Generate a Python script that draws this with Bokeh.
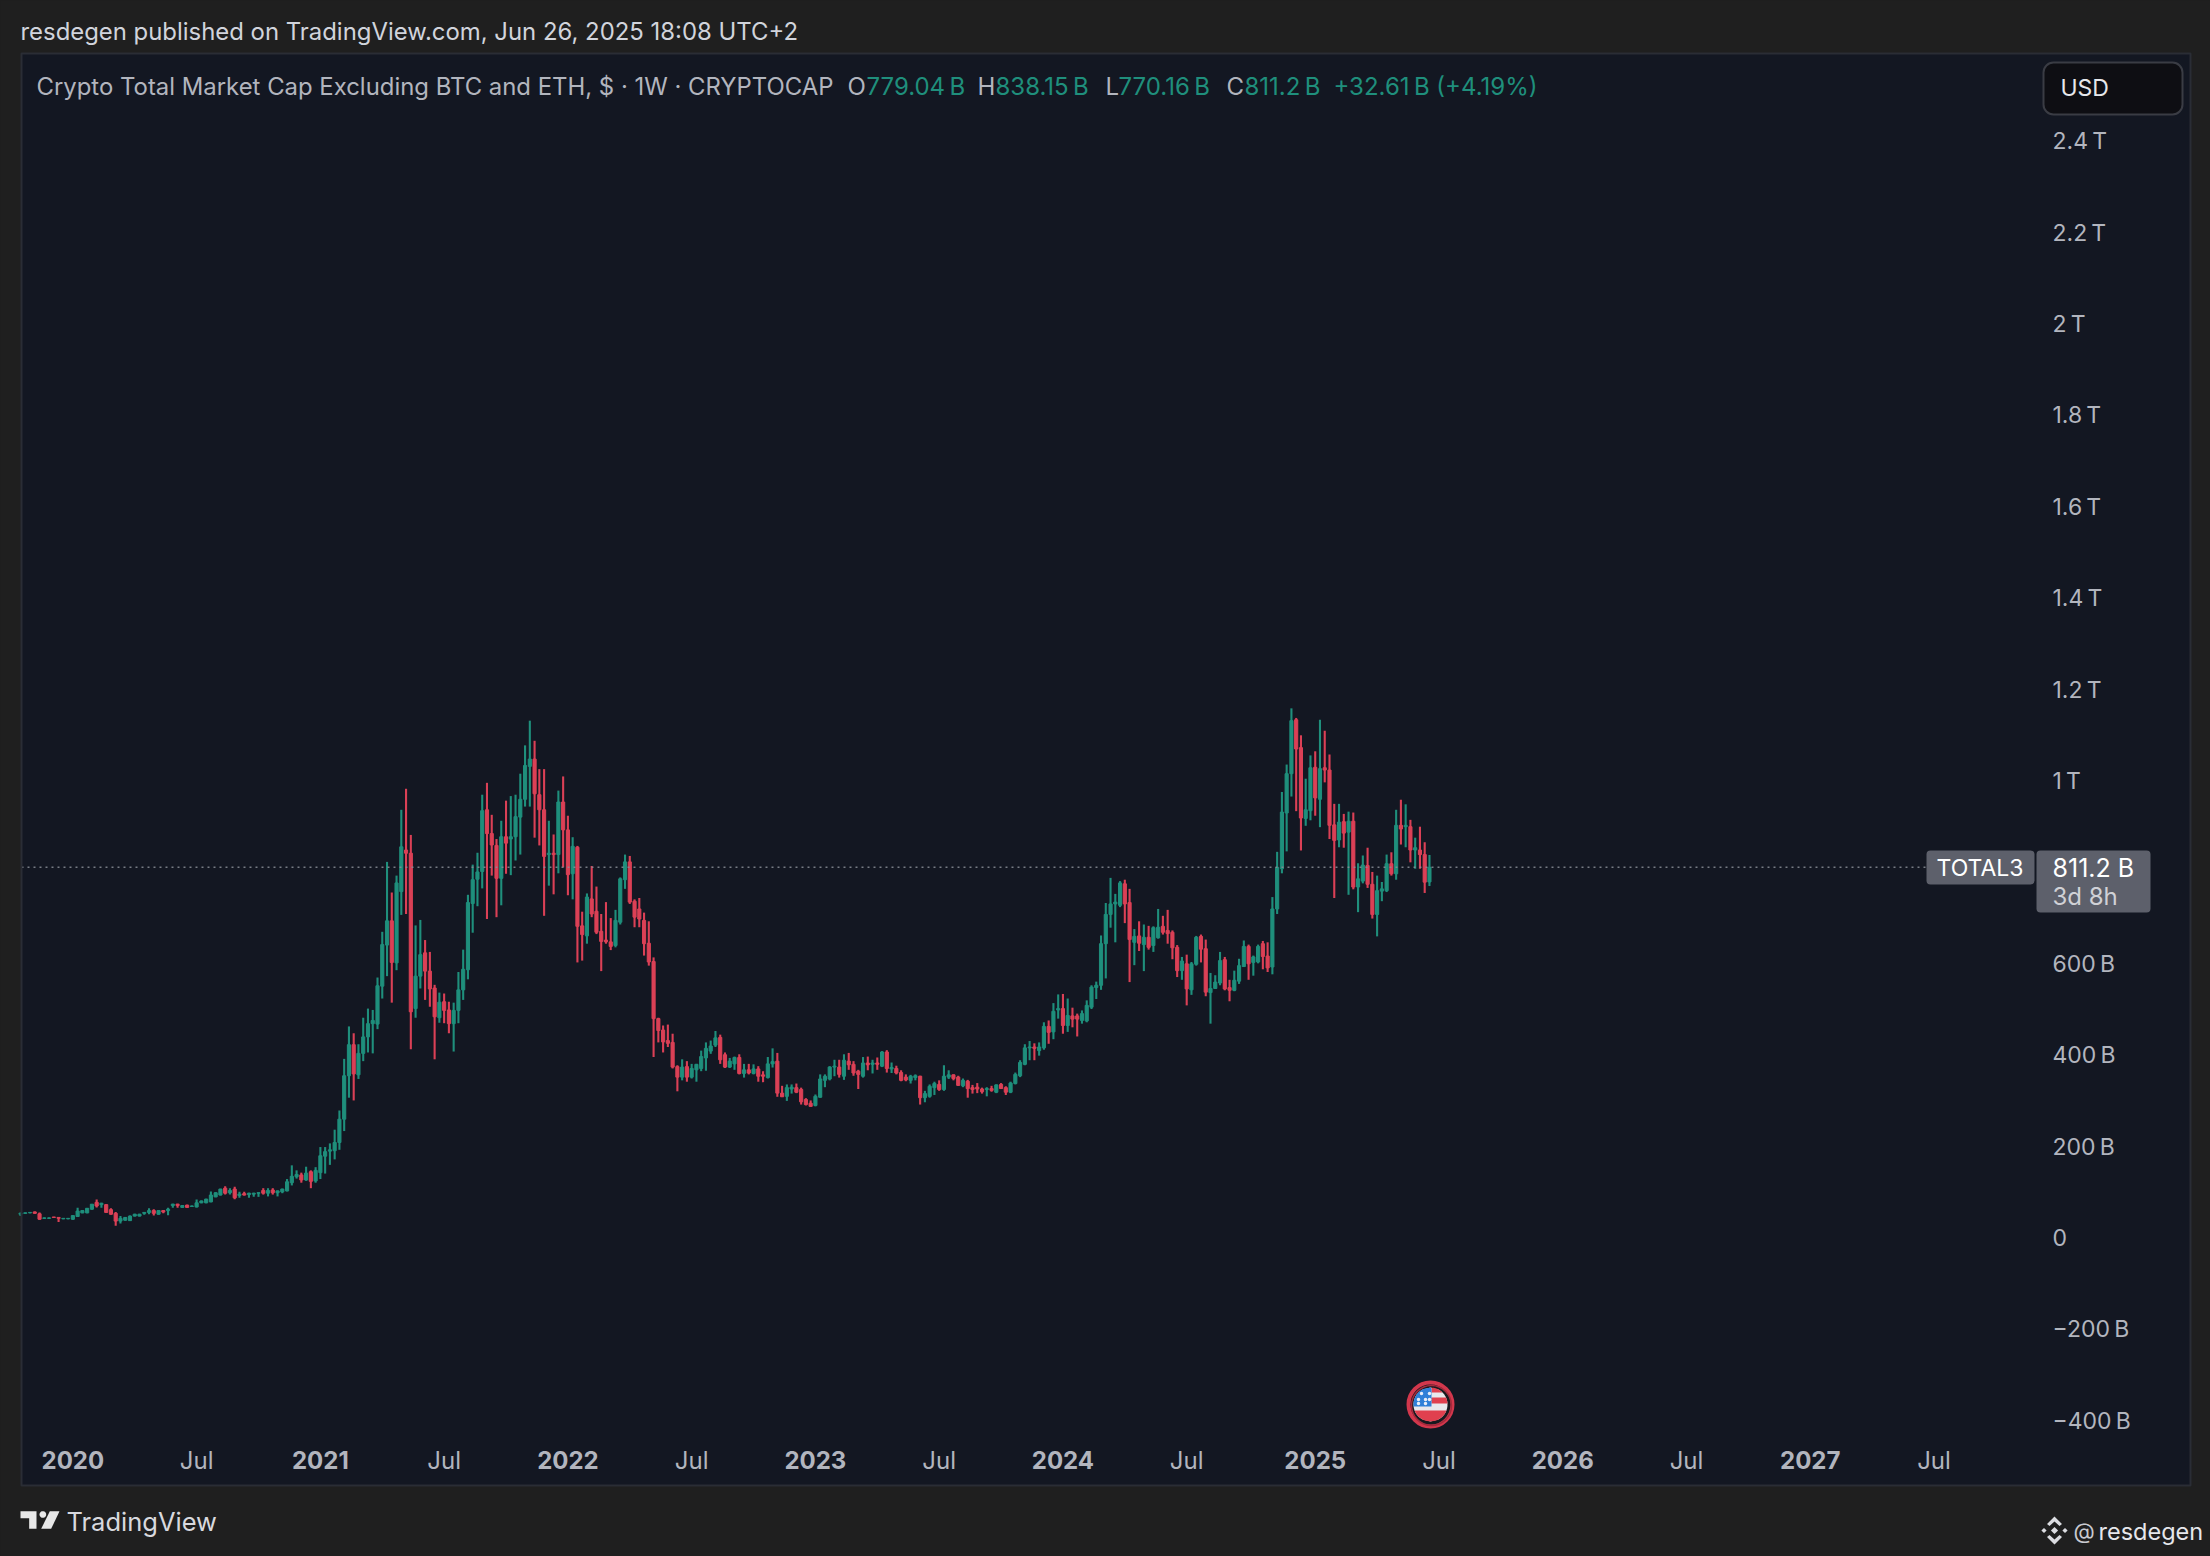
import numpy as np
from bokeh.plotting import figure, ColumnDataSource
from bokeh.models import (Range1d, LinearAxis, FixedTicker, Label, BoxAnnotation, PolyAnnotation)
from bokeh.embed import file_html
from bokeh.resources import INLINE

# ---------- data (billions USD, weekly candles) ----------
opens = [52,54,55,57,53,43,43,46,45,42, 42,41,47,55,55,63,78,73,73,62,
 54,37,39,38,48,48,54,56,60,52, 60,60,71,74,67,72,69,68,77,77,
 79,90,94,109,99,107,93,97,95,96, 98,104,98,105,99,101,103,121,134,138,
 127,145,125,143,179,190,191,209,260,355, 423,357,404,440,469,468,551,641,694,602,
 758,849,842,502,573,624,584,547,482,517, 499,469,498,543,587,732,785,802,937,885,
 859,787,878,873,878,921,960,1032,1048,970, 937,839,842,839,954,893,797,855,683,661,
 742,715,671,652,648,640,691,784,823,737, 720,695,645,605,480,455,432,428,375,352,
 375,352,368,371,394,409,422,439,401,374, 381,395,360,368,360,370,357,351,381,387,
 317,310,326,329,325,303,295,290,308,345, 348,374,374,354,387,380,365,354,383,380,
 383,376,407,370,371,362,352,345,351,354, 307,310,329,336,325,352,357,352,333,343,
 329,330,326,325,327,319,336,329,319,338, 355,380,416,418,410,416,463,451,499,502,
 465,486,486,476,475,505,548,553,644,708, 731,728,775,734,647,661,642,658,640,657,
 682,673,669,636,585,600,543,599,660,633, 537,546,558,609,548,542,562,594,638,603,
 604,644,617,593,720,808,930,1016,1134,1073, 918,935,1030,960,1029,1024,904,871,911,888,
 912,768,781,815,774,708,759,760,819,797, 903,900,900,849,849,839,779.04]
highs = [56,56,57,58,56,45,45,46,46,44, 44,50,66,61,65,74,84,77,74,65,
 57,48,46,49,53,53,57,65,63,61, 61,66,75,75,72,73,71,84,82,86,
 102,100,108,113,109,112,101,101,99,99, 100,109,109,109,104,108,129,159,148,143,
 156,148,155,199,199,207,237,279,392,463, 448,424,482,502,499,570,670,823,756,793,
 937,983,882,684,696,652,626,554,537,535, 517,515,582,631,751,817,843,970,996,926,
 873,913,957,967,970,1016,1078,1132,1088,1026, 1026,913,883,979,1010,924,877,858,714,754,
 814,769,709,735,700,718,789,839,836,741, 744,712,693,614,482,465,467,447,378,391,
 387,381,381,410,428,432,453,445,406,394, 397,402,381,381,380,376,365,396,415,405,
 333,336,336,338,329,306,301,314,358,358, 376,390,390,402,405,387,368,396,397,390,
 395,409,411,384,377,367,358,357,358,355, 322,336,342,345,378,367,358,355,349,346,
 335,339,329,330,333,336,339,332,342,362, 389,424,431,426,428,472,476,514,533,534,
 524,504,491,498,520,553,561,662,733,788, 753,781,784,764,676,693,686,683,682,720,
 705,718,673,641,615,620,604,661,664,653, 580,575,626,615,565,585,611,651,642,618,
 642,650,647,746,845,976,1036,1159,1138,1100, 1005,1056,1065,1134,1110,1058,950,950,928,933,
 931,820,837,854,801,793,779,839,844,937, 959,949,915,876,900,866,838.15]
lows = [48,53,54,53,40,42,42,44,35,41, 41,40,46,54,54,62,67,66,55,51,
 27,32,38,37,47,47,51,52,49,51, 54,50,66,66,66,66,68,67,76,76,
 78,89,93,95,95,85,88,93,88,90, 90,95,91,95,91,98,102,115,130,121,
 125,109,121,129,141,160,172,193,234,307, 301,348,387,406,404,457,524,573,515,586,
 707,709,413,482,546,521,506,391,471,470, 448,408,470,521,566,668,726,765,698,793,
 702,728,797,794,826,839,944,944,876,859, 705,771,752,798,811,750,741,603,607,644,
 702,665,584,644,630,636,686,764,731,680, 680,618,596,396,428,406,418,371,321,345,
 342,349,342,365,366,403,418,381,372,372, 368,358,351,358,358,342,341,349,373,309,
 309,300,316,317,292,290,288,288,307,330, 345,354,351,346,368,355,326,351,367,360,
 368,374,362,361,358,343,343,338,345,292, 297,307,313,322,322,348,345,333,330,307,
 316,317,316,310,320,317,326,313,317,336, 352,378,389,389,399,412,425,435,480,447,
 451,461,441,469,472,501,523,543,568,679, 647,724,689,560,597,628,584,631,626,655,
 664,644,610,571,565,509,532,596,603,529, 469,545,553,542,518,540,556,593,565,574,
 601,588,582,577,709,798,846,966,934,848, 902,914,924,899,997,873,744,855,854,751,
 763,713,776,766,699,660,737,757,793,784, 861,855,822,808,808,755,770.16]
closes = [54,55,56,54,41,44,44,45,43,43, 43,49,59,60,65,74,70,76,56,52,
 37,43,45,48,52,52,56,60,54,60, 57,63,74,71,71,67,70,77,81,85,
 94,99,107,98,104,88,96,94,98,98, 99,98,104,99,103,107,123,135,139,127,
 142,124,148,180,189,193,209,260,355,423, 359,404,440,469,476,552,642,694,603,777,
 856,842,495,573,620,584,545,484,516,498, 469,498,543,588,734,784,801,935,885,860,
 787,878,864,878,922,960,1034,1048,972,937, 835,842,839,954,893,795,857,682,664,746,
 709,669,649,648,638,695,786,823,735,702, 698,644,604,480,454,429,426,374,352,374,
 352,371,380,397,415,420,438,390,374,387, 395,360,368,361,370,354,354,381,386,317,
 309,329,330,319,298,292,288,310,348,354, 374,376,358,389,379,361,358,383,379,383,
 380,407,371,373,361,345,346,354,355,307, 316,332,338,325,354,357,349,334,345,327,
 325,326,320,327,323,335,327,319,339,358, 384,416,418,415,418,463,450,496,502,465,
 487,479,479,491,509,549,553,644,708,731, 735,777,731,653,660,645,658,636,679,680,
 669,666,635,585,606,545,600,658,632,538, 546,560,607,545,542,564,596,638,600,615,
 638,616,591,720,811,932,1016,1132,1070,919, 937,1029,963,1027,1024,903,870,910,886,912,
 768,786,816,774,708,760,764,819,797,903, 895,903,849,854,839,778.6,811.2]

year_weeks = [11, 63, 115, 167, 219, 272, 324, 376]
year_labels = ["2020", "2021", "2022", "2023", "2024", "2025", "2026", "2027"]
jul_weeks = [37, 89, 141, 193, 245, 298, 350, 402]
jul_labels = ["Jul"] * 8
price_ticks = [-400, -200, 0, 200, 400, 600, 1000, 1200, 1400, 1600, 1800, 2000, 2200, 2400]
price_labels = ["\u2212400\u2009B", "\u2212200\u2009B", "0", "200\u2009B", "400\u2009B", "600\u2009B",
                "1\u2009T", "1.2\u2009T", "1.4\u2009T", "1.6\u2009T", "1.8\u2009T", "2\u2009T", "2.2\u2009T", "2.4\u2009T"]
last_close = closes[-1]

# ---------- colours ----------
PAGE = "#1f1f1f"; PANEL = "#131722"; GREEN = "#1f8f7c"; RED = "#db4056"
TEXT = "#b2b5be"; FONT = "Inter"

# ---------- pixel helpers (reference pixels -> data) ----------
def X(px): return (px - 20.0) / 4.76
def Y(py): return (1237.5 - py) / 0.457

FL, FR, FT, FB = 21, 2190, 53, 1485
W, H = 2210, 1556
p = figure(width=W, height=H, output_backend="svg", toolbar_location=None,
           x_axis_location=None, y_axis_location=None,
           x_range=Range1d(X(0), X(W)), y_range=Range1d(Y(H), Y(0)),
           min_border_left=0, min_border_right=0, min_border_top=0, min_border_bottom=0,
           background_fill_color=PAGE, border_fill_color=PAGE, outline_line_color=None)
p.grid.visible = False

# chart panel
p.add_layout(BoxAnnotation(left=X(FL), right=X(FR), top=Y(FT), bottom=Y(FB), fill_color=PANEL,
                           fill_alpha=1, line_alpha=0, level="underlay"))

idx = list(range(len(opens)))
src = ColumnDataSource(dict(
    x=idx, h=highs, l=lows,
    top=[max(a, b) for a, b in zip(opens, closes)],
    bot=[min(a, b) for a, b in zip(opens, closes)],
    col=[GREEN if c >= o else RED for o, c in zip(opens, closes)]))
p.segment(x0="x", y0="l", x1="x", y1="h", color="col", line_width=2.1, source=src)
p.vbar(x="x", top="top", bottom="bot", width=0.66, fill_color="col", line_color="col",
       line_width=1.0, source=src)

# last price line
p.segment(x0=[X(FL)], y0=[last_close], x1=[X(1925)], y1=[last_close], line_color="#8b8e97",
          line_width=1.5, line_dash="2 4", line_alpha=0.85)

# panel border, above the marks
p.add_layout(BoxAnnotation(left=X(FL), right=X(FR), top=Y(FT), bottom=Y(FB), fill_alpha=0,
                           line_color="#2a2d35", line_width=2, line_alpha=1, level="annotation"))

# axes inside the panel
def x_axis(ticks, labels, style, py):
    ax = LinearAxis(fixed_location=Y(py), ticker=FixedTicker(ticks=ticks),
                    major_label_overrides=dict(zip(ticks, labels)))
    ax.axis_line_color = None; ax.major_tick_line_color = None; ax.minor_tick_line_color = None
    ax.major_label_text_color = TEXT; ax.major_label_text_font = FONT
    ax.major_label_text_font_size = "24px"; ax.major_label_text_font_style = style
    ax.major_label_standoff = 0
    p.add_layout(ax, "below")
x_axis(year_weeks, year_labels, "bold", 1444)
x_axis(jul_weeks, jul_labels, "normal", 1439)

ya = LinearAxis(fixed_location=X(2046), ticker=FixedTicker(ticks=price_ticks),
                major_label_overrides=dict(zip(price_ticks, price_labels)))
ya.axis_line_color = None; ya.major_tick_line_color = None; ya.minor_tick_line_color = None
ya.major_label_text_color = TEXT; ya.major_label_text_font = FONT
ya.major_label_text_font_size = "23px"; ya.major_label_standoff = 0
p.add_layout(ya, "right")

# labels
def label(px, py, text, color=TEXT, size=24, style="normal", align="left"):
    p.add_layout(Label(x=X(px), y=Y(py), text=text, text_color=color, text_font=FONT,
                       text_font_size=f"{size}px", text_font_style=style, text_align=align,
                       text_baseline="middle"))

def box(x0, x1, y0, y1, fill, radius=0, line=None):
    p.add_layout(BoxAnnotation(left=X(x0), right=X(x1), top=Y(y0), bottom=Y(y1), fill_color=fill,
                               fill_alpha=1, line_color=line, line_alpha=1 if line else 0,
                               line_width=2, border_radius=radius, level="annotation"))

def poly(pts, fill):
    p.add_layout(PolyAnnotation(xs=[X(a) for a, _ in pts], ys=[Y(b) for _, b in pts],
                                fill_color=fill, fill_alpha=1, line_alpha=0, level="overlay",
                                editable=False))

label(20, 31, "resdegen published on TradingView.com, Jun 26, 2025 18:08 UTC+2", "#d1d4dc", 23.9)
label(36, 86, "Crypto Total Market Cap Excluding BTC and ETH, $ \u00b7 1W \u00b7 CRYPTOCAP", TEXT, 23.9)
for px, text, col in [(847, "O", TEXT), (866, "779.04\u2009B", GREEN), (977, "H", TEXT), (995, "838.15\u2009B", GREEN),
                      (1105, "L", TEXT), (1118, "770.16\u2009B", GREEN), (1226, "C", TEXT), (1244, "811.2\u2009B", GREEN),
                      (1333, "+32.61\u2009B (+4.19%)", GREEN)]:
    label(px, 86, text, col, 24)

# USD button
box(2043, 2182, 62, 114, "#0e0e13", 10, "#3a3c44")
label(2060, 87, "USD", "#e6e7eb", 23)

# last price tags
box(1926, 2034, 850, 884, "#5d606b", 4)
box(2036, 2150, 850, 912, "#5d606b", 4)
label(1936, 867, "TOTAL3", "#ffffff", 23)
label(2052, 867, "811.2 B", "#ffffff", 25)
label(2052, 896, "3d 8h", "#d0d1d6", 24)

# US event flag
fx, fy, fr = 1430, 1404, 17.0
p.scatter([X(fx)], [Y(fy)], size=44, fill_color="#17191f", line_color="#d2374c", line_width=4)
p.scatter([X(fx + 1)], [Y(fy + 1)], size=40, fill_color=None, line_color="#a52a3c", line_width=1.5)
def band(y0, y1, x0, x1, col):
    ys_ = np.linspace(y0, y1, 16)
    half = np.sqrt(np.maximum(fr * fr - ys_ * ys_, 0))
    le = np.maximum(x0, -half); ri = np.minimum(x1, half)
    xs_ = np.concatenate([le, ri[::-1]]) + fx
    yy = np.concatenate([ys_, ys_[::-1]]) + fy
    p.patch(X(xs_), Y(yy), fill_color=col, line_color=None)
band(-17, 17, -17, 17, "#e8e8ec")
band(-17, -12, 1, 17, "#e0404f")
band(-7, -1, 1, 17, "#e0404f")
band(6, 17, -17, 17, "#e0404f")
band(-17, 2, -17, 1, "#2f80d8")
p.scatter(X(np.array([-9., -1, -12, -5, -12, -5, -1])+fx), Y(np.array([-11., -11, -5, -5, -1, -1, -5])+fy),
          size=3.5, fill_color="#e8eef8", line_color=None)

# TradingView logo
LG = "#e8e8e8"
def tvx(z): return 10 + z / 3
def tvy(z): return 1495 + z / 3
poly([(tvx(a), tvy(b)) for a, b in [(30, 47), (78, 47), (78, 100), (56, 100), (56, 68), (30, 68)]], LG)
t = np.linspace(0, 2 * np.pi, 24)
poly([(tvx(97 + 10 * np.cos(a)), tvy(57 + 10 * np.sin(a))) for a in t], LG)
poly([(tvx(a), tvy(b)) for a, b in [(118, 47), (147, 47), (122, 100), (92, 100)]], LG)
label(66, 1521, "TradingView", "#d8d9de", 25.5)

# Footer handle with diamond icon
cx, cy = 2054, 1530
W2 = "#dcdde2"
def diamond(ox, oy, r):
    poly([(cx + ox, cy + oy - r), (cx + ox + r, cy + oy), (cx + ox, cy + oy + r), (cx + ox - r, cy + oy)], W2)
diamond(0, 0, 3.6); diamond(-10.5, 0, 2.6); diamond(10.5, 0, 2.6)
poly([(cx, cy - 14), (cx + 7.5, cy - 6.5), (cx + 5, cy - 4.5), (cx, cy - 9), (cx - 5, cy - 4.5), (cx - 7.5, cy - 6.5)], W2)
poly([(cx, cy + 14), (cx + 7.5, cy + 6.5), (cx + 5, cy + 4.5), (cx, cy + 9), (cx - 5, cy + 4.5), (cx - 7.5, cy + 6.5)], W2)
label(2073, 1530, "@", "#c9cad0", 22)
label(2098, 1531, "resdegen", "#e6e7eb", 23.5)

html = file_html(p, INLINE, title="TOTAL3")
html = html.replace("<head>", "<head><style>html,body{background:#1f1f1f}</style>", 1)
open("out.html", "w").write(html)
